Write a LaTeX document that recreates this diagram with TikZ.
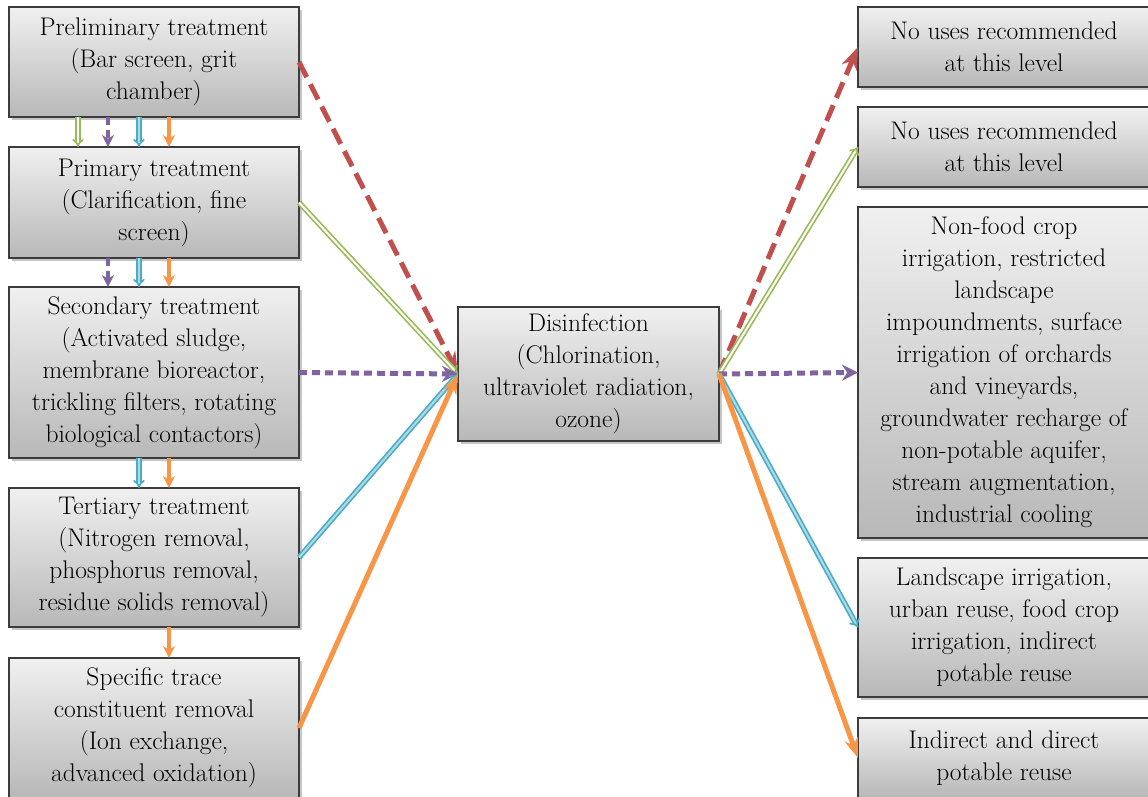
\documentclass[tikz,border=0pt]{standalone}
\usetikzlibrary{arrows.meta,shadows}
\definecolor{flowred}{HTML}{C0504D}
\definecolor{flowgreen}{HTML}{9BBB59}
\definecolor{flowpurple}{HTML}{8064A2}
\definecolor{flowblue}{HTML}{4BACC6}
\definecolor{floworange}{HTML}{F79646}
\definecolor{boxedge}{HTML}{3C3C3C}
\definecolor{boxtop}{HTML}{F0F0F0}
\definecolor{boxbot}{HTML}{B8B8B8}
\begin{document}
\begin{tikzpicture}[x=1pt,y=-1pt,inner sep=0pt,outer sep=0pt,
stage/.style={draw=boxedge,rectangle,line width=1.5pt,top color=boxtop,bottom color=boxbot,
  drop shadow={shadow xshift=3pt,shadow yshift=-3pt,opacity=0.45},align=center,
  font=\fontsize{25.5}{32}\selectfont},
leftstage/.style={stage,minimum width=290pt},
rightstage/.style={stage,minimum width=292pt},
redflow/.style={draw=flowred,line width=5pt,dash pattern=on 17pt off 8pt,-{Stealth[length=22pt,width=16pt]}},
greenflow/.style={draw=flowgreen,line width=1.7pt,double=white,double distance=2pt,-{Implies[length=9pt]}},
purpleflow/.style={draw=flowpurple,line width=5pt,dash pattern=on 8pt off 5pt,-{Stealth[length=16pt,width=16pt]}},
blueflow/.style={draw=flowblue,line width=1.7pt,double=flowblue!45,double distance=2pt,-{Implies[length=9pt]}},
orangeflow/.style={draw=floworange,line width=5pt,-{Stealth[length=20pt,width=14pt]}},
shortflow/.style={line width=4pt}]
\useasboundingbox (0,0) rectangle (1148,797);
\clip (0,0) rectangle (1148,797);
% treatment levels
\draw (154,62) node[leftstage,minimum height=110pt] (prelim) {Preliminary treatment\\(Bar screen, grit\\chamber)};
\draw (154,202.5) node[leftstage,minimum height=111pt] (primary) {Primary treatment\\(Clarification, fine\\screen)};
\draw (154,372.5) node[leftstage,minimum height=171pt] (second) {Secondary treatment\\(Activated sludge,\\membrane bioreactor,\\trickling filters, rotating\\biological contactors)};
\draw (154,557.5) node[leftstage,minimum height=139pt] (tert) {Tertiary treatment\\(Nitrogen removal,\\phosphorus removal,\\residue solids removal)};
\draw (154,728) node[leftstage,minimum height=140pt] (trace) {Specific trace\\constituent removal\\(Ion exchange,\\advanced oxidation)};
% disinfection
\draw (588.5,374) node[stage,minimum width=261pt,minimum height=134pt] (disinf) {Disinfection\\(Chlorination,\\ultraviolet radiation,\\ozone)};
% uses
\draw (1004,47) node[rightstage,minimum height=80pt] (use1) {No uses recommended\\at this level};
\draw (1004,147) node[rightstage,minimum height=80pt] (use2) {No uses recommended\\at this level};
\draw (1004,372.5) node[rightstage,minimum height=331pt] (use3) {Non-food crop\\irrigation, restricted\\landscape\\impoundments, surface\\irrigation of orchards\\and vineyards,\\groundwater recharge of\\non-potable aquifer,\\stream augmentation,\\industrial cooling};
\draw (1004,627.5) node[rightstage,minimum height=139pt] (use4) {Landscape irrigation,\\urban reuse, food crop\\irrigation, indirect\\potable reuse};
\draw (1004,758) node[rightstage,minimum height=80pt] (use5) {Indirect and direct\\potable reuse};
% columns of the short arrows
\coordinate (colG) at (78,0);
\coordinate (colP) at (108,0);
\coordinate (colB) at (139,0);
\coordinate (colO) at (169,0);
\draw[greenflow] (prelim.south -| colG) -- (primary.north -| colG);
\foreach \a/\b in {prelim/primary,primary/second}
  \draw[purpleflow,shortflow,-{Stealth[length=12pt,width=12pt]}] (\a.south -| colP) -- (\b.north -| colP);
\foreach \a/\b in {prelim/primary,primary/second,second/tert}
  \draw[blueflow] (\a.south -| colB) -- (\b.north -| colB);
\foreach \a/\b in {prelim/primary,primary/second,second/tert,tert/trace}
  \draw[orangeflow,shortflow,-{Stealth[length=12pt,width=12pt]}] (\a.south -| colO) -- (\b.north -| colO);
% into disinfection
\draw[redflow] (prelim.east) -- (disinf.west);
\draw[greenflow] (primary.east) -- (disinf.west);
\draw[purpleflow] (second.east) -- (disinf.west);
\draw[blueflow] (tert.east) -- (disinf.west);
\draw[orangeflow] (trace.east) -- (disinf.west);
% out of disinfection
\draw[redflow] (disinf.east) -- (use1.west);
\draw[greenflow] (disinf.east) -- (use2.west);
\draw[purpleflow] (disinf.east) -- (use3.west);
\draw[blueflow] (disinf.east) -- (use4.west);
\draw[orangeflow] (disinf.east) -- (use5.west);
\end{tikzpicture}
\end{document}
